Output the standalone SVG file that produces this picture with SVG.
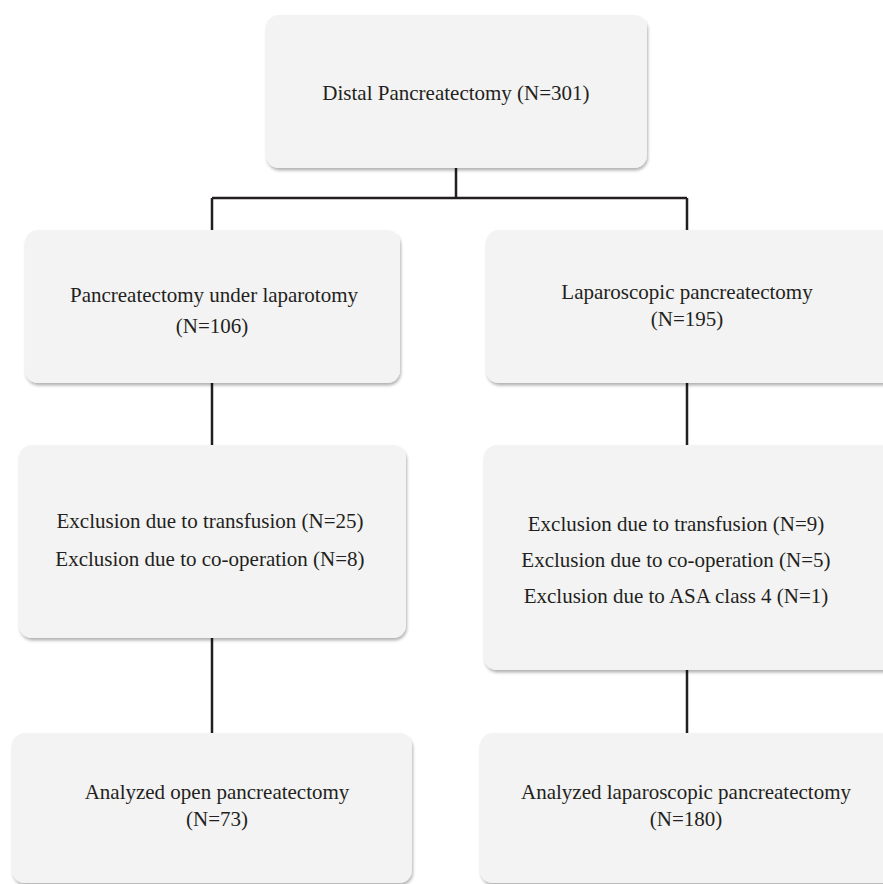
<svg xmlns="http://www.w3.org/2000/svg" width="883" height="884" viewBox="0 0 883 884">
<defs>
<filter id="sh" x="-5%" y="-5%" width="110%" height="115%">
<feDropShadow dx="1" dy="2.5" stdDeviation="1.5" flood-color="#000" flood-opacity="0.3"/>
</filter>
</defs>
<style>
.box{fill:#f3f3f3;filter:url(#sh)}
.t{font-family:"Liberation Serif","Times New Roman","DejaVu Serif",serif;font-size:21px;fill:#231f20;text-anchor:middle}
.c{stroke:#231f20;stroke-width:2.5;fill:none}
</style>
<rect width="883" height="884" fill="#fff"/>
<g id="connectors">
<path class="c" d="M456 168V198M212 198H687M212 198V230M687 198V230"/>
<path class="c" d="M212 383V445M687 383V445"/>
<path class="c" d="M212 638V733M687 670V733"/>
</g>
<g id="n-distal">
<rect class="box" x="266" y="15" width="381" height="153" rx="13"/>
<text class="t" x="456" y="100">Distal Pancreatectomy (N=301)</text>
</g>
<g id="n-open">
<rect class="box" x="25" y="230" width="375" height="153" rx="13"/>
<text class="t" x="214" y="302">Pancreatectomy under laparotomy</text>
<text class="t" x="212" y="333">(N=106)</text>
</g>
<g id="n-lap">
<rect class="box" x="486" y="230" width="410" height="153" rx="13"/>
<text class="t" x="687" y="299">Laparoscopic pancreatectomy</text>
<text class="t" x="687" y="326">(N=195)</text>
</g>
<g id="n-excl-open">
<rect class="box" x="19" y="445" width="387" height="193" rx="13"/>
<text class="t" x="210" y="528">Exclusion due to transfusion (N=25)</text>
<text class="t" x="210" y="566">Exclusion due to co-operation (N=8)</text>
</g>
<g id="n-excl-lap">
<rect class="box" x="484" y="445" width="412" height="225" rx="13"/>
<text class="t" x="676" y="531">Exclusion due to transfusion (N=9)</text>
<text class="t" x="676" y="567">Exclusion due to co-operation (N=5)</text>
<text class="t" x="676" y="603">Exclusion due to ASA class 4 (N=1)</text>
</g>
<g id="n-anal-open">
<rect class="box" x="12" y="733" width="400" height="150" rx="13"/>
<text class="t" x="217" y="799">Analyzed open pancreatectomy</text>
<text class="t" x="217" y="826">(N=73)</text>
</g>
<g id="n-anal-lap">
<rect class="box" x="480" y="733" width="416" height="150" rx="13"/>
<text class="t" x="686" y="799">Analyzed laparoscopic pancreatectomy</text>
<text class="t" x="686" y="826">(N=180)</text>
</g>
</svg>
